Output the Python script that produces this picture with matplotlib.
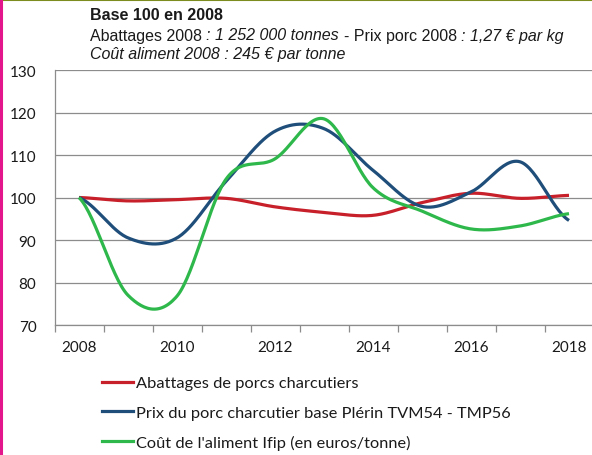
import numpy as np
import matplotlib
matplotlib.use('Agg')
import matplotlib.pyplot as plt
from matplotlib.lines import Line2D

# indices base 100 en 2008
annees = [2008, 2009, 2010, 2011, 2012, 2013, 2014, 2015, 2016, 2017, 2018]
abattages = [100, 99.2, 99.5, 99.8, 97.8, 96.5, 95.8, 98.8, 101.0, 99.8, 100.5]
prix_porc = [100, 90.5, 90.5, 103.8, 115.6, 116.2, 106.4, 97.9, 101.3, 108.4, 94.6]
cout_aliment = [100, 77.0, 76.8, 104.3, 109.1, 118.5, 102.3, 96.8, 92.6, 93.3, 96.2]

noms = ['Abattages de porcs charcutiers',
        'Prix du porc charcutier base Plérin TVM54 - TMP56',
        "Coût de l'aliment Ifip (en euros/tonne)"]
couleurs = ['#c8202a', '#1f4e7a', '#2eb84b']

grille = '#8c8c8c'
police = 'Lato'


def lissage(y, n=30):
    # courbe lissée type Excel (Catmull-Rom) passant par les points annuels
    y = np.asarray(y, dtype=float)
    p = np.concatenate([[y[0]], y, [y[-1]]])
    xs, ys = [], []
    t = np.linspace(0, 1, n, endpoint=False)
    for i in range(len(y) - 1):
        p0, p1, p2, p3 = p[i], p[i + 1], p[i + 2], p[i + 3]
        m1 = (p2 - p0) / 2
        m2 = (p3 - p1) / 2
        h00 = 2 * t**3 - 3 * t**2 + 1
        h10 = t**3 - 2 * t**2 + t
        h01 = -2 * t**3 + 3 * t**2
        h11 = t**3 - t**2
        xs.append(i + t)
        ys.append(h00 * p1 + h10 * m1 + h01 * p2 + h11 * m2)
    xs.append([len(y) - 1])
    ys.append([y[-1]])
    return np.concatenate(xs), np.concatenate(ys)


fig = plt.figure(figsize=(5.92, 4.56), dpi=100)
W, H = 592, 456
ax = fig.add_axes([54.5 / W, 1 - 326 / H, 539 / W, 255 / H])

for serie, c in zip([abattages, prix_porc, cout_aliment], couleurs):
    xs, ys = lissage(serie)
    ax.plot(xs, ys, color=c, lw=2.3, solid_capstyle='butt', zorder=3)

ax.set_xlim(-0.5, len(annees) - 0.5)
ax.set_ylim(70, 130)
ax.set_yticks(np.arange(70, 131, 10))
ax.yaxis.grid(True, color=grille, lw=0.9)
ax.set_axisbelow(True)

ax.set_xticks(np.arange(-0.5, len(annees), 1))
ax.set_xticklabels([])
ax.set_xticks(range(0, len(annees), 2), minor=True)
ax.set_xticklabels([str(a) for a in annees[::2]], minor=True)
ax.tick_params(axis='x', which='major', length=5, width=0.9, color=grille, direction='out')
ax.tick_params(axis='x', which='minor', length=0, pad=11, labelsize=11)
ax.tick_params(axis='y', length=0, pad=13, labelsize=11)
for lab in ax.get_xticklabels(minor=True) + ax.get_yticklabels():
    lab.set_family(police)
    lab.set_color('#1a1a1a')

for s in ['top', 'right']:
    ax.spines[s].set_visible(False)
for s in ['left', 'bottom']:
    ax.spines[s].set_color(grille)
    ax.spines[s].set_linewidth(0.9)

# légende
poignees = [Line2D([], [], color=c, lw=2.3) for c in couleurs]
leg = fig.legend(poignees, noms, loc='upper left', bbox_to_anchor=(102 / W, 1 - 377 / H),
                 frameon=False, prop={'family': police, 'size': 11.8}, handlelength=1.9,
                 handletextpad=0.18, labelspacing=0.9, borderpad=0, borderaxespad=0)
for t in leg.get_texts():
    t.set_color('#1a1a1a')

# en-tête
fig.text(90 / W, 1 - 16 / H, 'Base 100 en 2008', family='Liberation Sans', weight='bold',
         size=11.5, va='center', color='#1a1a1a')

rend = fig.canvas.get_renderer()
taille = 11.5
espace = taille * 0.278 * 100 / 72


def morceaux(x, y, parts):
    for texte, style in parts:
        t = fig.text(x / W, 1 - y / H, texte, family='Liberation Sans', style=style,
                     size=taille, va='center', color='#1a1a1a')
        bb = t.get_window_extent(rend)
        x = bb.x1 + espace


morceaux(90, 36, [('Abattages 2008', 'normal'), (': 1 252 000 tonnes', 'italic'),
                  ('- Prix porc 2008', 'normal'), (': 1,27 € par kg', 'italic')])
morceaux(90, 54, [('Coût aliment 2008 : 245 € par tonne', 'italic')])

# cadre : trait vert olive en haut, bande rose à gauche
fig.add_artist(Line2D([0, 1], [1 - 0.8 / H, 1 - 0.8 / H], color='#7d8c1e', lw=1.5))
fig.add_artist(Line2D([1.2 / W, 1.2 / W], [0, 1], color='#e4168c', lw=2.2))

fig.savefig('out.png', dpi=100)
